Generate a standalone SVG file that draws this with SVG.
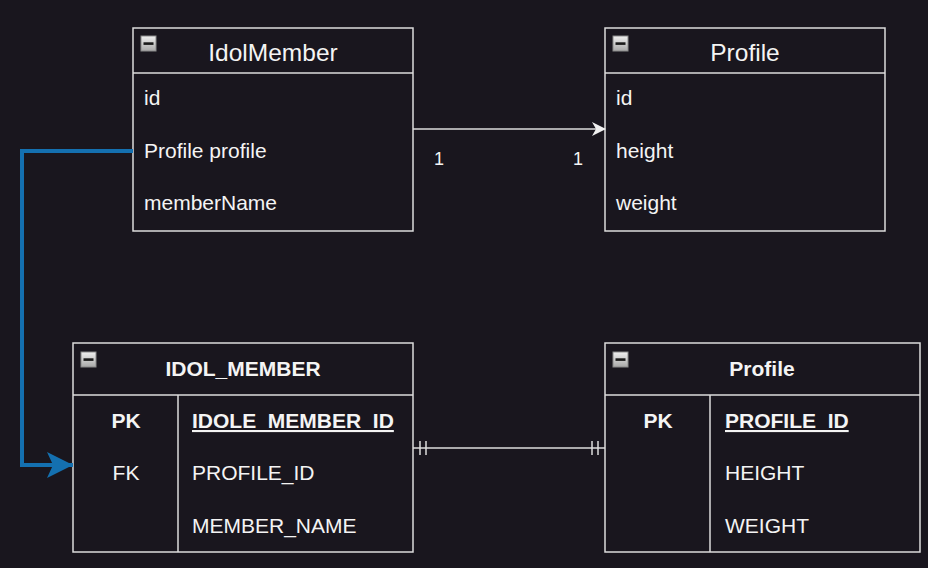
<svg xmlns="http://www.w3.org/2000/svg" width="928" height="568" viewBox="0 0 928 568">
<defs>
<linearGradient id="ig" x1="0" y1="0" x2="0" y2="1"><stop offset="0" stop-color="#f0f0f0"/><stop offset="1" stop-color="#a8a8a8"/></linearGradient>
<g id="minus"><rect x="0" y="0" width="15" height="15" fill="url(#ig)" stroke="#8a8a8a" stroke-width="1"/><rect x="2.5" y="6.3" width="10" height="2.6" fill="#1a1a1a"/></g>
<marker id="open" viewBox="0 0 14 14" refX="13" refY="7" markerWidth="14" markerHeight="14" markerUnits="userSpaceOnUse" orient="auto"><path d="M0,0 L14,7 L0,14 L4,7 Z" fill="#f0f0f0"/></marker>
<marker id="blue" viewBox="0 0 26 26" refX="26" refY="13" markerWidth="26" markerHeight="26" markerUnits="userSpaceOnUse" orient="auto"><path d="M0,0 L26,13 L0,26 L6,13 Z" fill="#1470b0"/></marker>
</defs>
<style>
.box{fill:#19161e;stroke:#dcdcdc;stroke-width:1.5}
.ln{stroke:#dcdcdc;stroke-width:1.5;fill:none}
.t{font-family:"Liberation Sans",Arial,sans-serif;font-size:21px;fill:#f4f4f4}
.title{font-family:"Liberation Sans",Arial,sans-serif;font-size:24.5px;fill:#f4f4f4;text-anchor:middle}
.b{font-weight:bold}
.c{text-anchor:middle}
.u{text-decoration:underline}
.lbl{font-family:"Liberation Sans",Arial,sans-serif;font-size:18px;fill:#f4f4f4;text-anchor:middle}
</style>
<rect width="928" height="568" fill="#19161e"/>

<g id="IdolMember">
<rect class="box" x="133" y="28" width="280" height="203"/>
<line class="ln" x1="133" y1="73" x2="413" y2="73"/>
<use href="#minus" x="141" y="36"/>
<text class="title" x="273" y="61">IdolMember</text>
<text class="t" x="144" y="105">id</text>
<text class="t" x="144" y="158">Profile profile</text>
<text class="t" x="144" y="210">memberName</text>
</g>

<g id="Profile">
<rect class="box" x="605" y="28" width="280" height="203"/>
<line class="ln" x1="605" y1="73" x2="885" y2="73"/>
<use href="#minus" x="613" y="36"/>
<text class="title" x="745" y="61">Profile</text>
<text class="t" x="616" y="105">id</text>
<text class="t" x="616" y="158">height</text>
<text class="t" x="616" y="210">weight</text>
</g>

<g id="IDOL_MEMBER">
<rect class="box" x="73" y="343" width="340" height="209"/>
<line class="ln" x1="73" y1="395" x2="413" y2="395"/>
<line class="ln" x1="178" y1="395" x2="178" y2="552"/>
<use href="#minus" x="81" y="352"/>
<text class="t b c" x="243" y="376">IDOL_MEMBER</text>
<text class="t b c" x="126" y="428">PK</text>
<text class="t c" x="126" y="480">FK</text>
<text class="t b u" x="192" y="428">IDOLE_MEMBER_ID</text>
<text class="t" x="192" y="480">PROFILE_ID</text>
<text class="t" x="192" y="533">MEMBER_NAME</text>
</g>

<g id="ProfileTable">
<rect class="box" x="605" y="343" width="315" height="209"/>
<line class="ln" x1="605" y1="395" x2="920" y2="395"/>
<line class="ln" x1="710" y1="395" x2="710" y2="552"/>
<use href="#minus" x="613" y="352"/>
<text class="t b c" x="762" y="376">Profile</text>
<text class="t b c" x="658" y="428">PK</text>
<text class="t b u" x="725" y="428">PROFILE_ID</text>
<text class="t" x="725" y="480">HEIGHT</text>
<text class="t" x="725" y="533">WEIGHT</text>
</g>

<g id="connectors">
<line class="ln" x1="413" y1="129" x2="605" y2="129" marker-end="url(#open)"/>
<text class="lbl" x="439" y="165">1</text>
<text class="lbl" x="578" y="165">1</text>
<polyline points="133,151 22,151 22,465 73,465" fill="none" stroke="#1470b0" stroke-width="4" marker-end="url(#blue)"/>
<line class="ln" x1="413" y1="448" x2="605" y2="448"/>
<line class="ln" x1="420" y1="441" x2="420" y2="455"/>
<line class="ln" x1="426" y1="441" x2="426" y2="455"/>
<line class="ln" x1="592" y1="441" x2="592" y2="455"/>
<line class="ln" x1="598" y1="441" x2="598" y2="455"/>
</g>
</svg>
